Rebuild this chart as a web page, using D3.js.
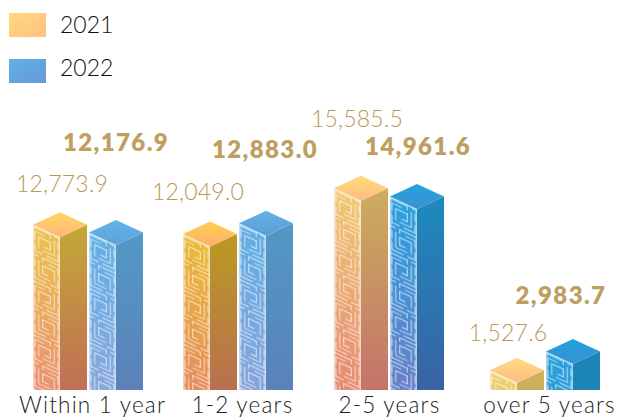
<!DOCTYPE html>
<html>
<head>
<meta charset="utf-8">
<script src="https://cdn.jsdelivr.net/npm/d3@7/dist/d3.min.js"></script>
<style>
  html, body { margin: 0; padding: 0; background: #fff; }
  svg { display: block; font-family: Lato, "Open Sans", sans-serif; }
</style>
</head>
<body>
<svg id="chart" width="617" height="418"></svg>
<script>
// Maturity groups and the two reporting years
const categories = ["Within 1 year", "1-2 years", "2-5 years", "over 5 years"];
const years = ["2021", "2022"];
const values2021 = [12773.9, 12049.0, 15585.5, 1527.6];
const values2022 = [12176.9, 12883.0, 14961.6, 2983.7];

// Where the group centres and captions sit along the baseline
const groupCentres = [88, 238, 389, 545];
const captionCentres = [92, 242, 389, 549];
// Value label placement: [horizontal centre, baseline] for each group
const labelPos2021 = [[62, 192], [198, 200], [357, 127], [508, 341]];
const labelPos2022 = [[116, 151], [265, 158], [418, 155], [561, 304]];

// Face shades per group: top1, top2, frontTop, frontBottom, sideTop, sideBottom
const shades2021 = [
  ["#ffd65f", "#ffb67c", "#ebc24f", "#ea8f70", "#c4a836", "#c06f55"],
  ["#ffd04f", "#ffae6e", "#e9bb36", "#e58a60", "#bb9a22", "#b87050"],
  ["#ffdb78", "#ffbb85", "#f0c873", "#e58874", "#cbae5e", "#c4736a"],
  ["#ffdc80", "#ffbc85", "#efd070", "#eec869", "#cfb25c", "#cbae5a"]
];
const shades2022 = [
  ["#62b5e9", "#5ea1da", "#62b0e5", "#8aa6dc", "#5299c6", "#5c81b8"],
  ["#60b2e6", "#5c9ed8", "#60aee3", "#8aa4dc", "#5298c6", "#5a82b8"],
  ["#22a4dd", "#3c90d2", "#2aa0de", "#6a7ec8", "#1c8abf", "#3b62a3"],
  ["#20a3dd", "#3a90d2", "#28a0dc", "#2d9bd8", "#1b86b9", "#1d84b6"]
];

const baseY = 390;
const faceW = 27;
const rise = 12.5;
const skewDeg = Math.atan(rise / faceW) * 180 / Math.PI;

const svg = d3.select("#chart");
const defs = svg.append("defs");

const groupX = d3.scaleOrdinal(categories, groupCentres);
const captionX = d3.scaleOrdinal(categories, captionCentres);
const yearOffset = d3.scaleOrdinal(years, [-faceW * 2 - 1, 1]);
const y = d3.scaleLinear().domain([0, 16000]).range([baseY, 183]);

// Key-fret lattice laid over the front faces
const cell = faceW / 14;
const fret = defs.append("pattern")
  .attr("id", "fret")
  .attr("patternUnits", "userSpaceOnUse")
  .attr("width", faceW)
  .attr("height", cell * 28);
const fretPaths = [
  "M0 1H9V3M11 1H14M11 3V11H5M3 11V5H9V9H6",
  "M13 3V7M13 9V13H7M5 13H1V9M1 7V3H6",
  "M14 15H5V17M3 15H0M3 17V25H9M11 25V19H5V23H8",
  "M1 17V21M1 23V27H7M9 27H13V23M13 21V17H8"
];
fret.selectAll("path").data(fretPaths).join("path")
  .attr("d", d => d)
  .attr("transform", `scale(${cell})`)
  .attr("fill", "none")
  .attr("stroke", "#fff")
  .attr("stroke-opacity", 0.6)
  .attr("stroke-width", 1.15 / cell);

function gradient(id, c1, c2, x2, y2) {
  const g = defs.append("linearGradient").attr("id", id)
    .attr("x1", 0).attr("y1", 0).attr("x2", x2).attr("y2", y2);
  g.append("stop").attr("offset", 0).attr("stop-color", c1);
  g.append("stop").attr("offset", 1).attr("stop-color", c2);
  return `url(#${id})`;
}

const bars = [];
categories.forEach((c, i) => {
  bars.push({ c, i, year: years[0], value: values2021[i], shade: shades2021[i], label: labelPos2021[i], strong: false });
  bars.push({ c, i, year: years[1], value: values2022[i], shade: shades2022[i], label: labelPos2022[i], strong: true });
});

svg.append("g").selectAll("g").data(bars).join("g")
  .each(function (d) {
    const g = d3.select(this);
    const left = groupX(d.c) + yearOffset(d.year);
    const mid = left + faceW;
    const right = mid + faceW;
    const top = y(d.value);
    const h = baseY - top;
    const key = d.year + "-" + d.i;

    const topFill = gradient("top" + key, d.shade[0], d.shade[1], 0, 1);
    const frontFill = gradient("front" + key, d.shade[2], d.shade[3], 0, 1);
    const sideFill = gradient("side" + key, d.shade[4], d.shade[5], 0, 1);

    // Right-hand face
    g.append("path")
      .attr("d", `M${mid} ${top + rise}L${right} ${top}V${baseY}H${mid}Z`)
      .attr("fill", sideFill);

    // Roof diamond
    g.append("path")
      .attr("d", `M${left} ${top}L${mid} ${top - rise}L${right} ${top}L${mid} ${top + rise}Z`)
      .attr("fill", topFill);

    // Front face: sheared group so the lattice follows the isometric slope,
    // trimmed along the flat baseline
    const clipId = "clip" + key;
    defs.append("clipPath").attr("id", clipId).append("path")
      .attr("d", `M0 0H${faceW}V${h - rise}L0 ${h}Z`);
    const front = g.append("g")
      .attr("transform", `translate(${left},${top}) skewY(${skewDeg})`)
      .append("g").attr("clip-path", `url(#${clipId})`);
    front.append("rect").attr("width", faceW).attr("height", h).attr("fill", frontFill);
    front.append("rect").attr("width", faceW).attr("height", h).attr("fill", "url(#fret)");
    front.append("rect").attr("width", faceW).attr("height", h)
      .attr("fill", "none")
      .attr("stroke", "#fff")
      .attr("stroke-opacity", 0.55)
      .attr("stroke-width", 3);
  });

// Value labels: 2022 set in heavy type, 2021 in light
svg.append("g").selectAll("text").data(bars).join("text")
  .attr("x", d => d.label[0])
  .attr("y", d => d.label[1])
  .attr("text-anchor", "middle")
  .attr("fill", d => d.strong ? "#bf9f5f" : "#b8985a")
  .attr("font-weight", d => d.strong ? 800 : 300)
  .attr("font-size", d => d.strong ? 24 : 23)
  .attr("letter-spacing", d => d.strong ? 1.4 : 0.2)
  .text(d => d3.format(",.1f")(d.value));

// Category captions
const axis = d3.axisBottom(captionX).tickSize(0).tickPadding(0);
const axisG = svg.append("g").attr("transform", "translate(0,397)").call(axis);
axisG.select(".domain").remove();
axisG.selectAll("text")
  .attr("font-family", "Lato, sans-serif")
  .attr("font-weight", 300)
  .attr("font-size", 22.5)
  .attr("letter-spacing", 1.2)
  .attr("fill", "#222");

// Legend
const legendY = d3.scalePoint().domain(years).range([13, 59]);
const legendTextY = d3.scalePoint().domain(years).range([33, 76]);
const legendFill = {
  "2021": gradient("legend2021", "#ffdc7c", "#ffbe82", 1, 1),
  "2022": gradient("legend2022", "#5eb3e6", "#6898d5", 1, 1)
};
svg.append("g").selectAll("rect").data(years).join("rect")
  .attr("x", 9).attr("y", d => legendY(d))
  .attr("width", 37).attr("height", 24).attr("fill", d => legendFill[d]);
svg.append("g").selectAll("text").data(years).join("text")
  .attr("x", 60).attr("y", d => legendTextY(d))
  .attr("font-weight", 300).attr("font-size", 23)
  .attr("fill", "#111")
  .text(d => d);
</script>
</body>
</html>
